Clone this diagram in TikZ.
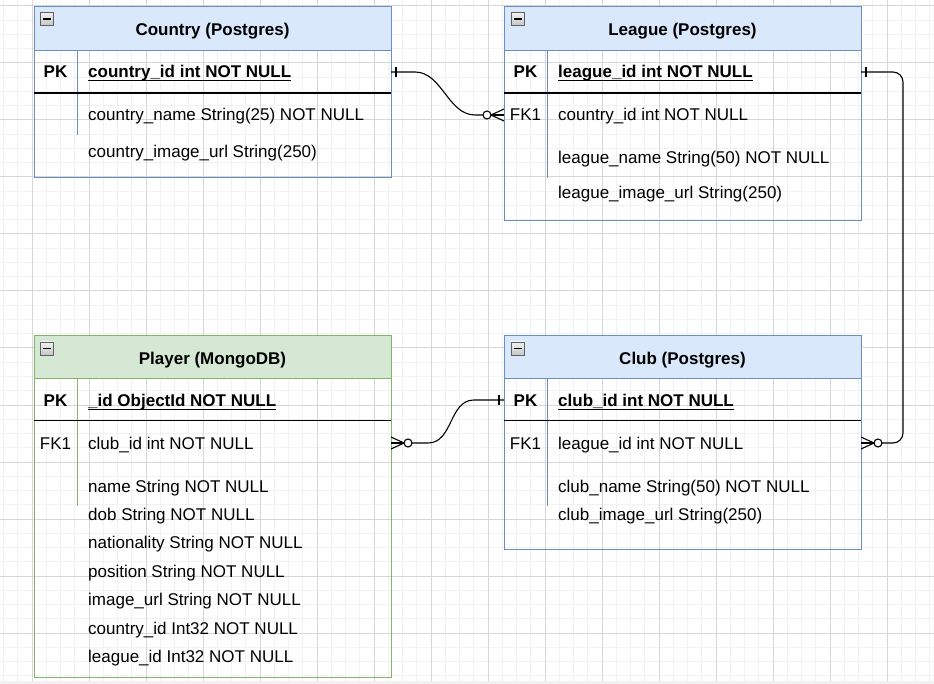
\documentclass[tikz,border=0pt]{standalone}
\usepackage{fontspec}
\setmainfont{Liberation Sans}
\usetikzlibrary{calc}
\definecolor{bluefill}{HTML}{DAE8FC}
\definecolor{blueline}{HTML}{6C8EBF}
\definecolor{greenfill}{HTML}{D5E8D4}
\definecolor{greenline}{HTML}{82B366}
\definecolor{gridminor}{HTML}{F2F2F2}
\definecolor{gridmajor}{HTML}{D6D6D6}
\begin{document}
\begin{tikzpicture}[x=1pt,y=-1pt,
  gminor/.style={draw=gridminor, line width=1pt},
  gmajor/.style={draw=gridmajor, line width=1pt},
  tblhead/.style={draw, line width=1pt, minimum width=357pt, inner sep=0pt, outer sep=0pt},
  tblbody/.style={draw, line width=1pt, minimum width=357pt, inner sep=0pt, outer sep=0pt},
  ttl/.style={font=\fontsize{17}{20}\selectfont\bfseries, anchor=base, inner sep=0pt},
  keyb/.style={font=\fontsize{17}{20}\selectfont\bfseries, anchor=base, inner sep=0pt},
  keyn/.style={font=\fontsize{17}{20}\selectfont, anchor=base, inner sep=0pt},
  fld/.style={font=\fontsize{17}{20}\selectfont, anchor=base west, inner sep=0pt},
  fldpk/.style={font=\fontsize{17}{20}\selectfont\bfseries, anchor=base west, inner sep=0pt},
  divider/.style={line width=1.3pt, draw=black},
  colsep/.style={line width=1pt},
  ul/.style={line width=1.2pt, draw=black},
  conn/.style={line width=1.1pt, draw=black},
  icon/.style={draw=gray!75!black, line width=0.8pt, top color=gray!10, bottom color=gray!45}
]
\useasboundingbox (0,0) rectangle (934,684);
\fill[white] (0,0) rectangle (934,684);
% grid
\foreach \k in {-2,...,63} \draw[gminor] ({32+14.25*\k},0) -- ({32+14.25*\k},684);
\foreach \k in {0,...,47} \draw[gminor] (0,{6+14.25*\k}) -- (934,{6+14.25*\k});
\foreach \k in {0,...,15} \draw[gmajor] ({32+57*\k},0) -- ({32+57*\k},684);
\foreach \k in {0,...,11} \draw[gmajor] (0,{6+57*\k}) -- (934,{6+57*\k});
\fill[gridminor] (0,681) rectangle (934,684);

% ---------- Country ----------
\node[tblhead, draw=blueline, fill=bluefill, minimum height=44pt] (countryhead) at (212.5,29) {};
\node[tblbody, draw=blueline, minimum height=171pt] (country) at (212.5,92.5) {};
\draw[icon] (40,12.5) rectangle (53,25.5);
\draw[line width=1.6pt] (42.5,19) -- (50.5,19);
\node[ttl] (countrytitle) at (212.5,36) {Country (Postgres)};
\draw[colsep, draw=blueline] (77.5,51) -- (77.5,135);
\draw[divider] (34,93) -- (391,93);
\node[keyb] (countrypk) at (55.5,78) {PK};
\node[fldpk] (countryid) at (88,78) {country\_id int NOT NULL};
\draw[ul] ([yshift=-2.8pt]countryid.base west) -- ([yshift=-2.8pt]countryid.base east);
\node[fld] (countryname) at (88,121) {country\_name String(25) NOT NULL};
\node[fld] (countryimg) at (88,157.5) {country\_image\_url String(250)};

% ---------- League ----------
\node[tblhead, draw=blueline, fill=bluefill, minimum height=44pt] (leaguehead) at (682.5,29) {};
\node[tblbody, draw=blueline, minimum height=214pt] (league) at (682.5,114) {};
\draw[icon] (511,12.5) rectangle (524,25.5);
\draw[line width=1.6pt] (513.5,19) -- (521.5,19);
\node[ttl] (leaguetitle) at (682.5,36) {League (Postgres)};
\draw[colsep, draw=blueline] (547.5,51) -- (547.5,178);
\draw[divider] (504,93) -- (861,93);
\node[keyb] (leaguepk) at (525.5,78) {PK};
\node[fldpk] (leagueid) at (558,78) {league\_id int NOT NULL};
\draw[ul] ([yshift=-2.8pt]leagueid.base west) -- ([yshift=-2.8pt]leagueid.base east);
\node[keyn] (leaguefk) at (525.5,121) {FK1};
\node[fld] (leaguecountry) at (558,121) {country\_id int NOT NULL};
\node[fld] (leaguename) at (558,164) {league\_name String(50) NOT NULL};
\node[fld] (leagueimg) at (558,199) {league\_image\_url String(250)};

% ---------- Player ----------
\node[tblhead, draw=greenline, fill=greenfill, minimum height=42pt] (playerhead) at (212.5,357) {};
\node[tblbody, draw=greenline, minimum height=341pt] (player) at (212.5,506.5) {};
\draw[icon] (40,342) rectangle (53,355);
\draw[line width=1.6pt] (42.5,348.5) -- (50.5,348.5);
\node[ttl] (playertitle) at (212.5,364) {Player (MongoDB)};
\draw[colsep, draw=greenline] (77.5,378) -- (77.5,506);
\draw[divider] (34,420.5) -- (391,420.5);
\node[keyb] (playerpk) at (55.5,406.5) {PK};
\node[fldpk] (playerid) at (88,406.5) {\_id ObjectId NOT NULL};
\draw[ul] ([yshift=-2.8pt]playerid.base west) -- ([yshift=-2.8pt]playerid.base east);
\node[keyn] (playerfk) at (55.5,449) {FK1};
\node[fld] (playerclub) at (88,449) {club\_id int NOT NULL};
\node[fld] (playername) at (88,492) {name String NOT NULL};
\node[fld] (playerdob) at (88,520.4) {dob String NOT NULL};
\node[fld] (playernat) at (88,548.8) {nationality String NOT NULL};
\node[fld] (playerpos) at (88,577.2) {position String NOT NULL};
\node[fld] (playerimg) at (88,605.6) {image\_url String NOT NULL};
\node[fld] (playercountry) at (88,634) {country\_id Int32 NOT NULL};
\node[fld] (playerleague) at (88,662.6) {league\_id Int32 NOT NULL};

% ---------- Club ----------
\node[tblhead, draw=blueline, fill=bluefill, minimum height=42pt] (clubhead) at (682.5,357) {};
\node[tblbody, draw=blueline, minimum height=213pt] (club) at (682.5,442.5) {};
\draw[icon] (511,342) rectangle (524,355);
\draw[line width=1.6pt] (513.5,348.5) -- (521.5,348.5);
\node[ttl] (clubtitle) at (682.5,364) {Club (Postgres)};
\draw[colsep, draw=blueline] (547.5,378) -- (547.5,506);
\draw[divider] (504,420.5) -- (861,420.5);
\node[keyb] (clubpk) at (525.5,406.5) {PK};
\node[fldpk] (clubid) at (558,406.5) {club\_id int NOT NULL};
\draw[ul] ([yshift=-2.8pt]clubid.base west) -- ([yshift=-2.8pt]clubid.base east);
\node[keyn] (clubfk) at (525.5,449) {FK1};
\node[fld] (clubleague) at (558,449) {league\_id int NOT NULL};
\node[fld] (clubname) at (558,492) {club\_name String(50) NOT NULL};
\node[fld] (clubimg) at (558,520.4) {club\_image\_url String(250)};

% ---------- connectors ----------
\coordinate (e1a) at (country.east |- 0,72);
\coordinate (e1b) at (league.west |- 0,115);
\coordinate (e2a) at (league.east |- 0,72);
\coordinate (e2b) at (club.east |- 0,443);
\coordinate (e3a) at (player.east |- 0,443);
\coordinate (e3b) at (club.west |- 0,400);

% Country -> League (one to zero-or-many)
\draw[conn] (e1a) -- ++(24,0) .. controls +(27,0) and +(-27,0) .. ($(e1b)+(-29,0)$) -- ($(e1b)+(-21,0)$);
\draw[conn] ($(e1a)+(5,-5)$) -- ($(e1a)+(5,5)$);
\draw[conn, fill=white] ($(e1b)+(-17,0)$) circle (4pt);
\draw[conn] ($(e1b)+(0,-6)$) -- ($(e1b)+(-13,0)$) -- ($(e1b)+(0,6)$);
\draw[conn] ($(e1b)+(-13,0)$) -- (e1b);

% League -> Club
\draw[conn, rounded corners=10pt] (e2a) -- ++(42,0) |- ($(e2b)+(21,0)$);
\draw[conn] ($(e2a)+(5,-5)$) -- ($(e2a)+(5,5)$);
\draw[conn, fill=white] ($(e2b)+(17,0)$) circle (4pt);
\draw[conn] ($(e2b)+(0,-6)$) -- ($(e2b)+(13,0)$) -- ($(e2b)+(0,6)$);
\draw[conn] ($(e2b)+(13,0)$) -- (e2b);

% Club -> Player
\draw[conn] (e3b) -- ++(-30,0) .. controls +(-25,0) and +(25,0) .. ($(e3a)+(37,0)$) -- ($(e3a)+(21,0)$);
\draw[conn] ($(e3b)+(-5,-5)$) -- ($(e3b)+(-5,5)$);
\draw[conn, fill=white] ($(e3a)+(17,0)$) circle (4pt);
\draw[conn] ($(e3a)+(0,-6)$) -- ($(e3a)+(13,0)$) -- ($(e3a)+(0,6)$);
\draw[conn] ($(e3a)+(13,0)$) -- (e3a);
\end{tikzpicture}
\end{document}
